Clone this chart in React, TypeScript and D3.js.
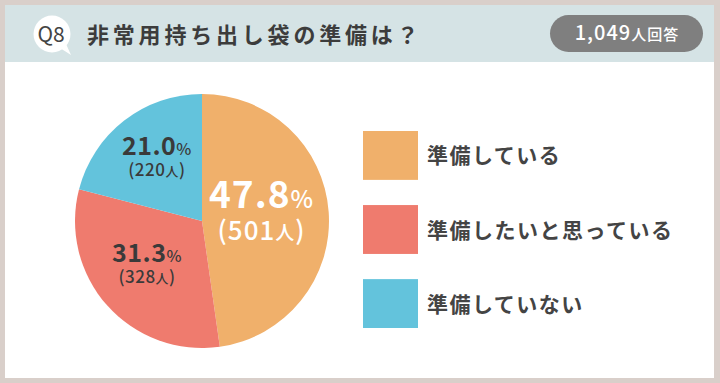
import React from "react";
import * as d3 from "d3";

const categories = ["準備している", "準備したいと思っている", "準備していない"];
const counts = [501, 328, 220];
const percents = ["47.8", "31.3", "21.0"];
const colors = ["#f0b06b", "#ef7b6e", "#63c3dc"];
const title = "非常用持ち出し袋の準備は？";
const totalLabel = "1,049";

const W = 720;
const H = 383;
const FONT = "'Noto Sans CJK JP', 'Noto Sans', sans-serif";

export default function App() {
  const cx = 202;
  const cy = 221;
  const R = 127;
  const pie = d3.pie<number>().sort(null).value((d) => d)(counts);
  const arc = d3.arc<d3.PieArcDatum<number>>().innerRadius(0).outerRadius(R);
  const total = d3.sum(counts);

  const legendY = d3.scaleBand<number>().domain(d3.range(categories.length)).range([131, 328]).paddingInner(0.34).paddingOuter(0);

  return (
    <svg width={W} height={H} style={{ position: "absolute", left: 0, top: 0, display: "block" }} fontFamily={FONT}>
      <rect x={0} y={0} width={W} height={H} fill="#d9cfca" />
      <rect x={5} y={5} width={709} height={373} fill="#ffffff" />
      <rect x={5} y={5} width={709} height={57} fill="#d5e3e5" />
      {/* Q8 bubble */}
      <circle cx={52} cy={34} r={18.5} fill="#ffffff" />
      <path d="M60,48 L71,55 L66,44 Z" fill="#ffffff" />
      <text x={51} y={42} textAnchor="middle" fontSize={21} fill="#444" fontWeight={400}>Q8</text>
      <text x={87} y={43} fontSize={22} fill="#3c3c3c" fontWeight={700} letterSpacing={3.8}>{title}</text>
      {/* pill */}
      <rect x={550} y={15} width={153} height={37} rx={18.5} fill="#7f7f7f" />
      <text x={627} y={40} textAnchor="middle" fill="#ffffff" fontWeight={500} letterSpacing={1}>
        <tspan fontSize={20}>{totalLabel}</tspan>
        <tspan fontSize={15}>人回答</tspan>
      </text>
      {/* pie */}
      <g transform={`translate(${cx},${cy})`}>
        {pie.map((p, i) => (
          <path key={i} d={arc(p) || ""} fill={colors[i]} />
        ))}
        {pie.map((p, i) => {
          const big = p.value / total > 0.4;
          const lr = big ? R * 0.47 : R * 0.58;
          const [lx, ly] = d3.arc<d3.PieArcDatum<number>>().innerRadius(lr).outerRadius(lr).centroid(p);
          const col = big ? "#ffffff" : "#3a3a3a";
          return (
            <g key={"l" + i} transform={`translate(${lx},${ly})`} fill={col} fontWeight={700} textAnchor="middle">
              <text y={big ? -9 : -8} letterSpacing={big ? 1 : 0.5}>
                <tspan fontSize={big ? 37 : 25}>{percents[i]}</tspan>
                <tspan fontSize={big ? 24 : 16} fontWeight={500}>%</tspan>
              </text>
              <text y={big ? 23 : 13} fontWeight={500} letterSpacing={big ? 1 : 0.5}>
                <tspan fontSize={big ? 26 : 17}>(</tspan>
                <tspan fontSize={big ? 26 : 17}>{counts[i]}</tspan>
                <tspan fontSize={big ? 19 : 13}>人</tspan>
                <tspan fontSize={big ? 26 : 17}>)</tspan>
              </text>
            </g>
          );
        })}
      </g>
      {/* legend */}
      {categories.map((c, i) => {
        const y = legendY(i) as number;
        const h = legendY.bandwidth();
        return (
          <g key={"lg" + i}>
            <rect x={363} y={y} width={55} height={h} fill={colors[i]} />
            <text x={427} y={y + h / 2 + 8} fontSize={21} fill="#444" fontWeight={700} letterSpacing={1.5}>{c}</text>
          </g>
        );
      })}
    </svg>
  );
}
